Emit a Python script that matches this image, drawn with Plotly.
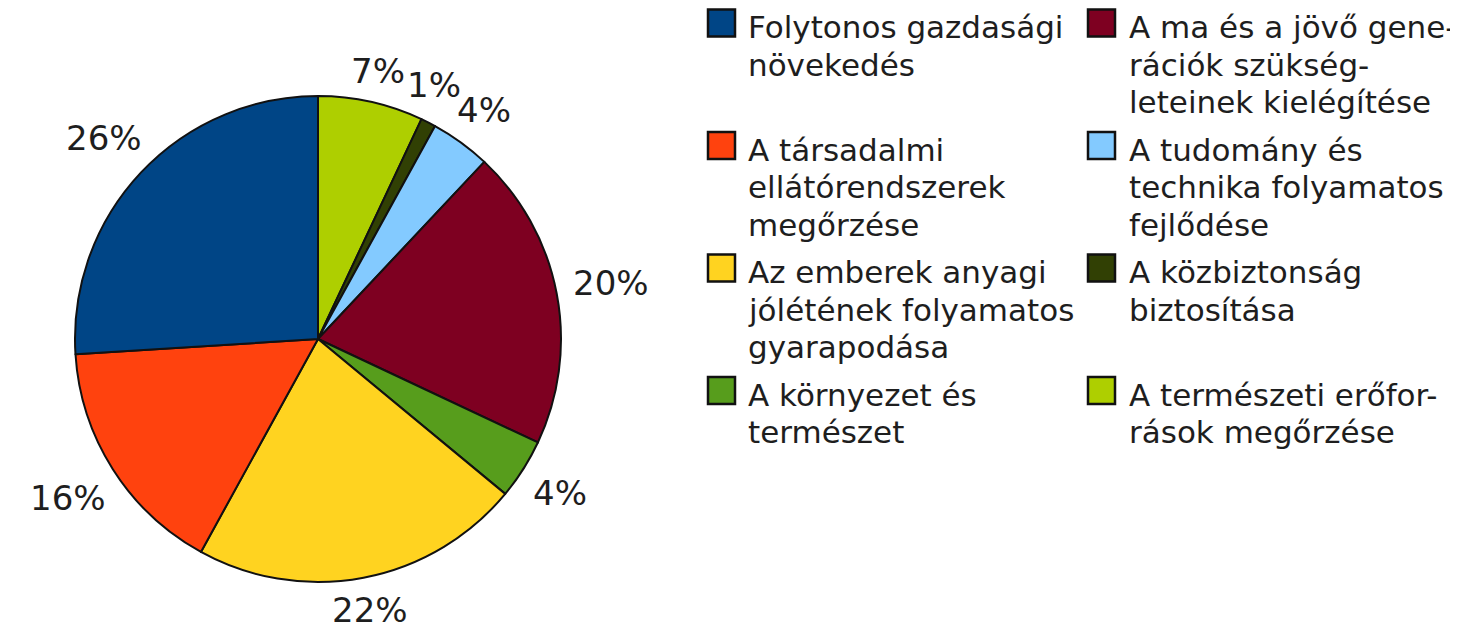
import math
import plotly.graph_objects as go

# ---- data (order counterclockwise from 12 o'clock; legend column-major) ----
legend_lines = [
    ["Folytonos gazdasági", "növekedés"],
    ["A társadalmi", "ellátórendszerek", "megőrzése"],
    ["Az emberek anyagi", "jólétének folyamatos", "gyarapodása"],
    ["A környezet és", "természet"],
    ["A ma és a jövő gene-", "rációk szükség-", "leteinek kielégítése"],
    ["A tudomány és", "technika folyamatos", "fejlődése"],
    ["A közbiztonság", "biztosítása"],
    ["A természeti erőfor-", "rások megőrzése"],
]
labels = ["Folytonos gazdasági növekedés",
          "A társadalmi ellátórendszerek megőrzése",
          "Az emberek anyagi jólétének folyamatos gyarapodása",
          "A környezet és természet",
          "A ma és a jövő generációk szükségleteinek kielégítése",
          "A tudomány és technika folyamatos fejlődése",
          "A közbiztonság biztosítása",
          "A természeti erőforrások megőrzése"]
values = [26, 16, 22, 4, 20, 4, 1, 7]
colors = ["#004586", "#ff420e", "#ffd320", "#579d1c",
          "#7e0021", "#83caff", "#314004", "#aecf00"]

W, H = 1458, 630
OFF = 8  # page body margin
FONT = "DejaVu Sans"
TXT = "#1e1e1e"


def px_x(x):
    return (x - OFF) / W


def px_y(y):
    return 1 - (y - OFF) / H


# pie geometry (page pixels)
CX, CY, R = 318, 339, 243

fig = go.Figure()
# drawn clockwise with reversed order == counterclockwise in original order
fig.add_trace(go.Pie(
    labels=labels[::-1], values=values[::-1], sort=False,
    direction="clockwise", rotation=0,
    marker=dict(colors=colors[::-1], line=dict(color="#111111", width=2)),
    textinfo="none",
    showlegend=False, automargin=False,
    domain=dict(x=[px_x(CX - R), px_x(CX + R)], y=[px_y(CY + R), px_y(CY - R)]),
))

# percentage labels outside the pie (placed from the slice mid-angles,
# nudged counterclockwise when they would collide)
annotations = []
total = sum(values)
LFS = 34
placed = []


def label_box(theta_deg, txt):
    t = math.radians(theta_deg)
    half_w = (0.636 * (len(txt) - 1) + 0.95) * LFS / 2
    dist = R + 16 + abs(math.cos(t)) * half_w + abs(math.sin(t)) * 10
    x = CX + dist * math.cos(t)
    y = CY - dist * math.sin(t)
    return x, y, half_w * 0.9, 14


def collides(b):
    x, y, hw, hh = b
    for (x2, y2, hw2, hh2) in placed:
        if abs(x - x2) < hw + hw2 and abs(y - y2) < hh + hh2:
            return True
    return False


cum = 0
for v in values:
    theta = 90 + 360 * (cum + v / 2) / total
    cum += v
    txt = f"{round(100 * v / total)}%"
    b = label_box(theta, txt)
    while collides(b):
        theta += 0.5
        b = label_box(theta, txt)
    placed.append(b)
    annotations.append(dict(text=txt, xref="paper", yref="paper",
                            x=px_x(b[0]), y=px_y(b[1]), xanchor="center", yanchor="middle",
                            showarrow=False,
                            font=dict(family=FONT, size=LFS, color=TXT)))

# ---- manual two-column legend (column-major order) ----
col_box_x = [708, 1088]
col_text_x = [746, 1127]
box = 27
line_h = 37.5
rows = 4
row_max = [max(len(legend_lines[c * rows + r]) for c in range(2)) for r in range(rows)]
row_center = []
yc = 23
for r in range(rows):
    row_center.append(yc)
    yc += row_max[r] * line_h + 10

shapes = []
for i, lines in enumerate(legend_lines):
    c, r = i // rows, i % rows
    cy = row_center[r]
    x0 = col_box_x[c]
    shapes.append(dict(type="rect", xref="paper", yref="paper",
                       x0=px_x(x0), x1=px_x(x0 + box),
                       y0=px_y(cy + box / 2), y1=px_y(cy - box / 2),
                       fillcolor=colors[i], line=dict(color="#111111", width=2.5)))
    for k, ln in enumerate(lines):
        ly = cy + 4 + k * line_h
        annotations.append(dict(text=ln, xref="paper", yref="paper",
                                x=px_x(col_text_x[c]), y=px_y(ly),
                                xanchor="left", yanchor="middle", showarrow=False,
                                font=dict(family=FONT, size=31, color=TXT)))

fig.update_layout(width=W, height=H, margin=dict(l=0, r=0, t=0, b=0),
                  paper_bgcolor="white", plot_bgcolor="white",
                  shapes=shapes, annotations=annotations)
fig.write_html("out.html")
